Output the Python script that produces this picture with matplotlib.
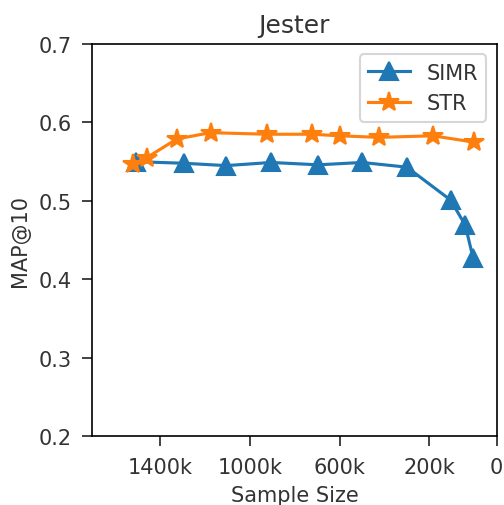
import matplotlib
matplotlib.use("Agg")
import matplotlib.pyplot as plt

simr_x = [1505e3, 1295e3, 1105e3, 905e3, 695e3, 500e3, 300e3, 105e3, 40e3, 5e3]
simr_y = [0.550, 0.548, 0.545, 0.549, 0.546, 0.549, 0.543, 0.501, 0.469, 0.427]
str_x = [1520e3, 1460e3, 1325e3, 1175e3, 925e3, 725e3, 600e3, 425e3, 185e3, 2e3]
str_y = [0.547, 0.555, 0.579, 0.587, 0.585, 0.585, 0.583, 0.581, 0.583, 0.575]
xtick_pos = [1400e3, 1000e3, 600e3, 200e3, -100e3]
xtick_labels = ["1400k", "1000k", "600k", "200k", "0"]
yticks = [0.2, 0.3, 0.4, 0.5, 0.6, 0.7]

fig = plt.figure(figsize=(3.36, 3.3733), dpi=150)
ax = fig.add_axes([0.183, 0.136, 0.8025, 0.775])
ax.plot(simr_x, simr_y, marker="^", markersize=9, label="SIMR")
ax.plot(str_x, str_y, marker="*", markersize=10, label="STR")
ax.set_xlim(1702e3, -100e3)
ax.set_ylim(0.2, 0.7)
ax.set_xticks(xtick_pos)
ax.set_xticklabels(xtick_labels)
ax.set_yticks(yticks)
ax.tick_params(length=4.8, pad=5)
ax.tick_params(colors="#222222", labelcolor="#333333")
ax.set_xlabel("Sample Size", color="#333333")
ax.set_ylabel("MAP@10", color="#333333")
ax.set_title("Jester", color="#333333")
leg = ax.legend(loc="upper right")
for t in leg.get_texts():
    t.set_color("#333333")
fig.savefig("out.png", dpi=150)
